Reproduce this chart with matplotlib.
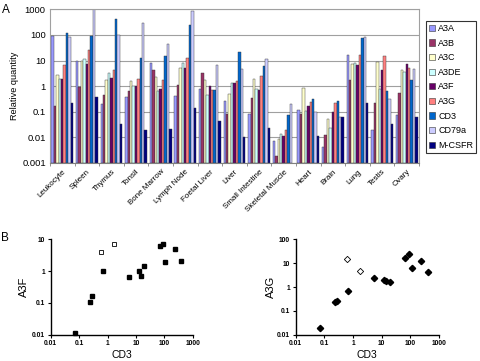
import numpy as np
import matplotlib
matplotlib.use("Agg")
import matplotlib.pyplot as plt
from matplotlib.patches import Patch
from matplotlib.ticker import FixedLocator, FixedFormatter, NullFormatter

plt.rcParams['font.family'] = ['Liberation Sans', 'DejaVu Sans']

# panel A data (relative quantity per tissue)
tissues = ['Leukocyte', 'Spleen', 'Thymus', 'Tonsil', 'Bone Marrow', 'Lymph Node',
           'Foetal Liver', 'Liver', 'Small Intestine', 'Skeletal Muscle', 'Heart',
           'Brain', 'Lung', 'Testis', 'Ovary']
a3a = [90, 9.7, 0.2, 0.38, 8.1, 0.41, 0.79, 0.26, 0.079, 0.0072, 0.12, 0.004, 16, 0.02, 0.077]
a3b = [0.17, 0.95, 0.45, 0.62, 4.1, 1.06, 3.4, 0.08, 0.35, 0.0019, 0.079, 0.012, 1.66, 0.21, 0.55]
a3c = [2.8, 9.7, 1.8, 1.6, 2.3, 5.2, 1.66, 0.5, 1.93, 0.0089, 0.86, 0.053, 7.4, 9.1, 4.2]
a3de = [1.9, 11.6, 3.3, 1.0, 0.64, 8.1, 0.45, 1.35, 0.74, 0.0139, 0.11, 0.024, 8.1, 0.74, 3.6]
a3f = [1.9, 7.6, 2.1, 1.0, 0.74, 4.9, 1.0, 1.35, 0.68, 0.011, 0.17, 0.10, 6.4, 4.1, 7.4]
a3g = [6.6, 25, 4.2, 1.9, 1.8, 12.7, 0.7, 1.6, 2.45, 0.019, 0.24, 0.22, 17, 15.6, 5.0]
cd3 = [115, 95, 430, 13, 15.6, 250, 0.68, 22, 6.0, 0.074, 0.30, 0.26, 76, 0.62, 1.8]
cd79a = [80, 1000, 100, 290, 45, 890, 6.8, 4.7, 11.6, 0.2, 0.097, 0.064, 81, 0.32, 4.7]
mcsfr = [0.22, 0.37, 0.034, 0.019, 0.021, 0.135, 0.042, 0.01, 0.022, np.nan, 0.0107, 0.064, 0.22, 0.032, 0.064]

series_names = ['A3A', 'A3B', 'A3C', 'A3DE', 'A3F', 'A3G', 'CD3', 'CD79a', 'M-CSFR']
series_vals = [a3a, a3b, a3c, a3de, a3f, a3g, cd3, cd79a, mcsfr]
colors = ['#9999FF', '#993366', '#FFFFCC', '#CCFFFF', '#660066', '#FF8080',
          '#0066CC', '#CCCCFF', '#000080']

# panel B data (CD3 vs A3F / A3G), filled and open points
b_cd3_f = [0.07, 0.24, 0.28, 0.68, 5.6, 12.5, 15, 20, 70, 90, 110, 240, 400]
b_a3f = [0.011, 0.105, 0.16, 1.0, 0.65, 1.0, 0.72, 1.4, 6.0, 7.1, 2.0, 4.9, 2.1]
b_cd3_open = [0.6, 1.75]
b_a3f_open = [4.0, 7.1]

b_cd3_g = [0.07, 0.24, 0.27, 0.66, 5.5, 12, 14, 20, 66, 91, 110, 235, 400]
b_a3g = [0.02, 0.23, 0.25, 0.7, 2.4, 1.9, 1.75, 1.63, 17, 24.5, 6.5, 12.5, 4.2]
b_cd3_g_open = [0.61, 1.78]
b_a3g_open = [15, 4.9]

fig = plt.figure(figsize=(4.8, 3.61), dpi=100)

# ---- panel A ----
ax = fig.add_axes([0.104, 0.549, 0.769, 0.425])
n = len(series_names)
bw = 0.098
x = np.arange(len(tissues)) + 0.5
for i, (name, vals, c) in enumerate(zip(series_names, series_vals, colors)):
    v = np.array(vals, dtype=float)
    ax.bar(x + (i - (n - 1) / 2) * bw, v - 1e-3, bottom=1e-3, width=bw,
           color=c, edgecolor='#333333', linewidth=0.3)
ax.set_yscale('log')
ax.set_ylim(1e-3, 1000)
ax.set_xlim(0, len(tissues))
yt = [0.001, 0.01, 0.1, 1, 10, 100, 1000]
ax.yaxis.set_major_locator(FixedLocator(yt))
ax.yaxis.set_major_formatter(FixedFormatter(['0.001', '0.01', '0.1', '1', '10', '100', '1000']))
ax.yaxis.set_minor_locator(FixedLocator([]))
ax.grid(axis='y', color='#a0a0a0', linewidth=0.8)
ax.set_axisbelow(True)
ax.tick_params(axis='y', labelsize=6.8, length=0, pad=3)
ax.set_xticks(x)
ax.set_xticklabels(tissues, rotation=45, ha='right', rotation_mode='anchor', fontsize=5.8)
ax.tick_params(axis='x', length=0, pad=4)
ax.set_xticks(np.arange(len(tissues) + 1), minor=True)
ax.tick_params(axis='x', which='minor', length=2.5, color='#808080')
for s in ax.spines.values():
    s.set_color('#a0a0a0')
    s.set_linewidth(0.8)
ax.spines['bottom'].set_color('#808080')
ax.set_ylabel('Relative quantity', fontsize=6.6, labelpad=2)

handles = [Patch(facecolor=c, edgecolor='#333333', linewidth=0.4, label=nm)
           for nm, c in zip(series_names, colors)]
leg = fig.legend(handles=handles, loc='upper left', bbox_to_anchor=(0.8875, 0.942),
                 fontsize=6.5, frameon=True, fancybox=False, handlelength=0.7,
                 handleheight=0.7, handletextpad=0.3, labelspacing=0.62,
                 borderpad=0.35, borderaxespad=0)
leg.get_frame().set_edgecolor('black')
leg.get_frame().set_linewidth(0.8)

fig.text(0.005, 0.972, 'A', fontsize=8.5, va='center')
fig.text(0.002, 0.34, 'B', fontsize=8.5, va='center')


# ---- panel B ----
def prism_axes(rect, ylim, yticks, ylabels, ylabel, lpad):
    a = fig.add_axes(rect)
    a.set_xscale('log')
    a.set_yscale('log')
    a.set_xlim(0.01, 1000)
    a.set_ylim(*ylim)
    a.xaxis.set_major_locator(FixedLocator([0.01, 0.1, 1, 10, 100, 1000]))
    a.xaxis.set_major_formatter(FixedFormatter(['0.01', '0.1', '1', '10', '100', '1000']))
    a.yaxis.set_major_locator(FixedLocator(yticks))
    a.yaxis.set_major_formatter(FixedFormatter(ylabels))
    a.xaxis.set_minor_locator(FixedLocator([]))
    a.yaxis.set_minor_locator(FixedLocator([]))
    a.xaxis.set_minor_formatter(NullFormatter())
    a.yaxis.set_minor_formatter(NullFormatter())
    a.spines['top'].set_visible(False)
    a.spines['right'].set_visible(False)
    for s in ['left', 'bottom']:
        a.spines[s].set_linewidth(1.0)
    a.tick_params(length=2.5, width=0.8, pad=1.5, labelsize=4.8)
    for lab in a.get_xticklabels() + a.get_yticklabels():
        lab.set_fontweight('bold')
    a.set_xlabel('CD3', fontsize=7.5, labelpad=2)
    a.set_ylabel(ylabel, fontsize=8, labelpad=lpad)
    return a


axf = prism_axes([0.1056, 0.0729, 0.2959, 0.2642], (0.01, 10),
                 [0.01, 0.1, 1, 10], ['0.01', '0.1', '1', '10'], 'A3F', 2)
axf.plot(b_cd3_f, b_a3f, 's', color='black', markersize=3, clip_on=False)
axf.plot(b_cd3_open, b_a3f_open, 's', mfc='white', mec='black', mew=0.6,
         markersize=3, clip_on=False)

axg = prism_axes([0.616, 0.0729, 0.2986, 0.2637], (0.01, 100),
                 [0.01, 0.1, 1, 10, 100], ['0.01', '0.1', '1', '10', '100'], 'A3G', 1)
axg.plot(b_cd3_g, b_a3g, 'D', color='black', markersize=3.2, clip_on=False)
axg.plot(b_cd3_g_open, b_a3g_open, 'D', mfc='white', mec='black', mew=0.6,
         markersize=3.2, clip_on=False)

fig.savefig('out.png', dpi=100)
